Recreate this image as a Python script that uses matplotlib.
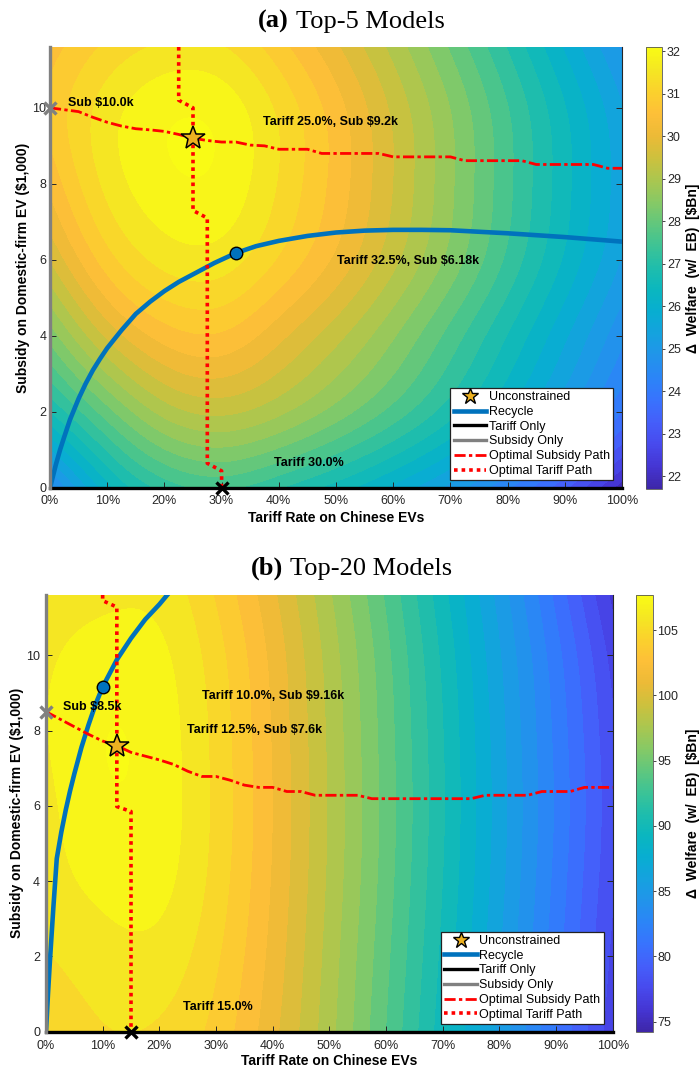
import numpy as np
import matplotlib
matplotlib.use("Agg")
import matplotlib.pyplot as plt
from matplotlib.colors import LinearSegmentedColormap, Normalize
from matplotlib.cm import ScalarMappable
from matplotlib.lines import Line2D

plt.rcParams['font.family'] = ['Liberation Sans', 'DejaVu Sans']

# MATLAB parula, approximated with anchor colours
parula = LinearSegmentedColormap.from_list('parula', [
    (0.2422, 0.1504, 0.6603), (0.2700, 0.2100, 0.8300), (0.2810, 0.2900, 0.9300),
    (0.2700, 0.3700, 0.9800), (0.2200, 0.4500, 0.9950), (0.1700, 0.5200, 0.9700),
    (0.1300, 0.5800, 0.9200), (0.0800, 0.6350, 0.8750), (0.0300, 0.6800, 0.8200),
    (0.0400, 0.7150, 0.7500), (0.1200, 0.7420, 0.6750), (0.2400, 0.7650, 0.5850),
    (0.3800, 0.7800, 0.4900), (0.5300, 0.7880, 0.3950), (0.6700, 0.7780, 0.3100),
    (0.8050, 0.7550, 0.2400), (0.9250, 0.7300, 0.2150), (0.9930, 0.7500, 0.2200),
    (0.9850, 0.8200, 0.1750), (0.9600, 0.9050, 0.1350), (0.9769, 0.9839, 0.0805)])

# ---- data -------------------------------------------------------------
tariff_grid = [0, 10, 20, 30, 40, 50, 60, 70, 80, 90, 100]   # %
subsidy_grid = [0, 2, 4, 6, 8, 10, 11.6]                      # $1,000

# welfare surface, rows = subsidy_grid, cols = tariff_grid  ($Bn)
welfare_top5 = np.array([
    [24.35, 26.2, 27.2, 27.5, 27.1, 26.55, 25.9, 25.15, 24.25, 23.2, 21.85],
    [26.7, 28.0, 29.0, 29.3, 28.95, 28.35, 27.65, 26.85, 25.95, 24.95, 23.85],
    [28.3, 29.65, 30.45, 30.6, 30.05, 29.35, 28.55, 27.65, 26.7, 25.7, 24.65],
    [29.6, 30.85, 31.5, 31.55, 30.98, 30.22, 29.33, 28.38, 27.35, 26.3, 25.25],
    [30.4, 31.48, 32.0, 32.0, 31.35, 30.52, 29.58, 28.58, 27.53, 26.48, 25.43],
    [30.75, 31.55, 32.0, 31.95, 31.3, 30.45, 29.5, 28.5, 27.45, 26.38, 25.3],
    [30.5, 31.1, 31.45, 31.4, 30.8, 30.0, 29.1, 28.1, 27.05, 25.95, 24.85]])
welfare_top20 = np.array([
    [104.5, 105.3, 105.2, 103.8, 101.1, 97.7, 93.8, 89.7, 85.4, 81.1, 77.0],
    [105.3, 106.0, 106.1, 104.4, 101.5, 97.95, 94.1, 90.05, 85.8, 81.55, 77.4],
    [106.0, 106.9, 106.9, 104.9, 101.78, 98.2, 94.38, 90.35, 86.15, 81.9, 77.8],
    [106.2, 107.5, 107.2, 105.08, 101.9, 98.3, 94.5, 90.5, 86.3, 82.1, 78.0],
    [106.5, 107.65, 107.17, 105.0, 101.8, 98.2, 94.4, 90.4, 86.18, 81.95, 77.8],
    [106.3, 107.1, 106.8, 104.7, 101.55, 97.95, 94.15, 90.1, 85.85, 81.55, 77.2],
    [105.9, 106.2, 106.15, 104.1, 101.0, 97.45, 93.65, 89.6, 85.3, 80.8, 76.2]])
clim_top5 = (21.7, 32.1)
clim_top20 = (74.2, 107.7)

# Top-5 paths
recycle5_t = [0, 0.5, 1, 1.75, 2.5, 3.5, 5, 6.25, 7.5, 8.75, 10, 12.5, 15, 17.5, 20, 22.5, 25,
              28.75, 32.5, 36, 40, 45, 50, 55, 60, 65, 70, 75, 80, 85, 90, 95, 100]
recycle5_s = [0, 0.3, 0.6, 1.0, 1.35, 1.8, 2.35, 2.75, 3.1, 3.4, 3.68, 4.15, 4.58, 4.9, 5.18, 5.42,
              5.62, 5.92, 6.18, 6.36, 6.5, 6.63, 6.72, 6.77, 6.79, 6.79, 6.78, 6.74, 6.7, 6.65,
              6.6, 6.54, 6.48]
subpath5_t = [0, 2.5, 5, 7.5, 10, 12.5, 15, 17.5, 20, 22.5, 25, 27.5, 30, 32.5, 35, 37.5, 40, 45,
              47.5, 57.5, 60, 70, 72.5, 82.5, 85, 95, 97.5, 100]
subpath5_s = [10.0, 9.95, 9.9, 9.75, 9.62, 9.52, 9.45, 9.42, 9.38, 9.3, 9.2, 9.14, 9.1, 9.1, 9.02, 9.0,
              8.91, 8.91, 8.8, 8.8, 8.71, 8.71, 8.61, 8.61, 8.51, 8.51, 8.41, 8.41]
tarpath5_t = [22.5, 22.5, 25, 25, 27.5, 27.5, 30, 30]
tarpath5_s = [11.6, 10.2, 10.0, 7.3, 7.1, 0.65, 0.45, 0]
opt5 = {'star': (25, 9.2), 'circle': (32.5, 6.18), 'tariff': (30, 0), 'sub': (0, 10.0)}
labels5 = [('Sub $10.0k', 3.1, 10.14), ('Tariff 25.0%, Sub $9.2k', 37.3, 9.64),
           ('Tariff 32.5%, Sub $6.18k', 50.1, 5.96), ('Tariff 30.0%', 39.2, 0.65)]

# Top-20 paths
recycle20_t = [0, 0.35, 0.7, 1.3, 1.9, 2.7, 3.5, 4.25, 5, 6.25, 7.5, 8.75, 10, 12.5, 15, 17.5, 20, 22.5]
recycle20_s = [0, 1.0, 1.9, 3.3, 4.6, 5.3, 5.9, 6.4, 6.85, 7.55, 8.15, 8.7, 9.16, 9.88, 10.45,
               10.95, 11.35, 11.8]
subpath20_t = [0, 2.5, 5, 7.5, 10, 12.5, 15, 17.5, 20, 22.5, 25, 27.5, 30, 32.5, 35, 37.5, 40, 42.5,
               45, 47.5, 55, 57.5, 75, 77.5, 85, 87.5, 92.5, 95, 100]
subpath20_s = [8.5, 8.3, 8.1, 7.9, 7.72, 7.6, 7.42, 7.32, 7.22, 7.1, 6.92, 6.78, 6.78, 6.68, 6.55,
               6.49, 6.49, 6.38, 6.38, 6.28, 6.28, 6.19, 6.19, 6.28, 6.28, 6.38, 6.38, 6.49, 6.49]
tarpath20_t = [10, 10, 12.5, 12.5, 15, 15]
tarpath20_s = [11.6, 11.45, 11.28, 5.98, 5.85, 0]
opt20 = {'star': (12.5, 7.6), 'circle': (10, 9.16), 'tariff': (15, 0), 'sub': (0, 8.5)}
labels20 = [('Sub $8.5k', 3.0, 8.62), ('Tariff 10.0%, Sub $9.16k', 27.6, 8.93),
            ('Tariff 12.5%, Sub $7.6k', 24.8, 8.02), ('Tariff 15.0%', 24.1, 0.65)]

tariff_only_t, tariff_only_s = [0, 100], [0, 0]
subsidy_only_t, subsidy_only_s = [0, 0], [0, 11.6]

S_MAX = 11.6
BLUE, GOLD, RED = '#0072BD', '#EDB120', '#FF0000'


def spline_matrix(x, xe):
    """natural cubic spline weights: values at xe = M @ values at knots x"""
    x = np.asarray(x, float)
    n = len(x)
    h = np.diff(x)
    A = np.zeros((n, n))
    B = np.zeros((n, n))
    A[0, 0] = A[-1, -1] = 1
    for i in range(1, n - 1):
        A[i, i - 1], A[i, i], A[i, i + 1] = h[i - 1], 2 * (h[i - 1] + h[i]), h[i]
        B[i, i - 1], B[i, i], B[i, i + 1] = 6 / h[i - 1], -6 / h[i - 1] - 6 / h[i], 6 / h[i]
    sec = np.linalg.solve(A, B)
    idx = np.clip(np.searchsorted(x, xe, side='right') - 1, 0, n - 2)
    M = np.zeros((len(xe), n))
    for k, (e, i) in enumerate(zip(xe, idx)):
        a = (x[i + 1] - e) / h[i]
        b = (e - x[i]) / h[i]
        M[k, i] += a
        M[k, i + 1] += b
        M[k] += ((a ** 3 - a) * sec[i] + (b ** 3 - b) * sec[i + 1]) * h[i] ** 2 / 6
    return M


def draw_panel(ax, cax, W, clim, cticks, rec_t, rec_s, sp_t, sp_s, tp_t, tp_s, opt, labels,
               xpad, ypad, xlpad, ylpad, cbpad):
    # smooth filled contours from the read-off grid
    t_f = np.linspace(0, 100, 301)
    s_f = np.linspace(0, S_MAX, 175)
    Z = spline_matrix(subsidy_grid, s_f) @ W @ spline_matrix(tariff_grid, t_f).T
    norm = Normalize(*clim)
    ax.contourf(t_f, s_f, Z, levels=np.linspace(clim[0], clim[1], 30), cmap=parula,
                norm=norm, extend='both', zorder=0)

    h_rec, = ax.plot(rec_t, rec_s, color=BLUE, lw=3.3, zorder=3)
    h_tar, = ax.plot(tariff_only_t, tariff_only_s, color='k', lw=2.4, zorder=3, clip_on=False)
    h_sub, = ax.plot(subsidy_only_t, subsidy_only_s, color='#808080', lw=2.4, zorder=3, clip_on=False)
    h_sp, = ax.plot(sp_t, sp_s, color=RED, lw=2, ls=(0, (4, 1.2, 1.2, 1.2)), zorder=4)
    h_tp, = ax.plot(tp_t, tp_s, color=RED, lw=2.6, ls=(0, (1, 1.1)), zorder=4)

    ax.plot(*opt['circle'], 'o', ms=9, mfc=BLUE, mec='k', mew=1, zorder=6)
    ax.plot(*opt['star'], '*', ms=18, mfc=GOLD, mec='k', mew=1.1, zorder=6)
    ax.plot(*opt['tariff'], 'x', ms=8.5, mec='k', mew=2.4, zorder=6, clip_on=False)
    ax.plot(*opt['sub'], 'x', ms=8.5, mec='#808080', mew=2.4, zorder=6, clip_on=False)

    for txt, x, y in labels:
        ax.text(x, y, txt, fontsize=9, fontweight='bold', va='center', ha='left', zorder=7)

    ax.set_xlim(0, 100)
    ax.set_ylim(0, S_MAX)
    ax.set_xticks(range(0, 101, 10))
    ax.set_xticklabels([f'{v}%' for v in range(0, 101, 10)])
    ax.set_yticks([0, 2, 4, 6, 8, 10])
    ax.tick_params(direction='in', length=4, width=0.7, top=False, right=True,
                   labelsize=9, colors='#262626')
    ax.tick_params(axis='x', pad=xpad)
    ax.tick_params(axis='y', pad=ypad)
    ax.spines['top'].set_visible(False)
    for sp in ('left', 'right', 'bottom'):
        ax.spines[sp].set_color('#262626')
        ax.spines[sp].set_linewidth(0.8)
    ax.set_xlabel('Tariff Rate on Chinese EVs', fontsize=10, fontweight='bold', labelpad=xlpad)
    ax.set_ylabel('Subsidy on Domestic-firm EV ($1,000)', fontsize=10, fontweight='bold', labelpad=ylpad)

    star_h = Line2D([], [], ls='none', marker='*', ms=12, mfc=GOLD, mec='k', mew=1)
    leg = ax.legend([star_h, h_rec, h_tar, h_sub, h_sp, h_tp],
                    ['Unconstrained', 'Recycle', 'Tariff Only', 'Subsidy Only',
                     'Optimal Subsidy Path', 'Optimal Tariff Path'],
                    loc='lower right', bbox_to_anchor=(0.984, 0.018), fontsize=9,
                    handlelength=2.6, handletextpad=0.2, labelspacing=0.22, borderpad=0.25,
                    borderaxespad=0, fancybox=False, framealpha=1, edgecolor='#222222')
    leg.get_frame().set_linewidth(0.9)
    leg.set_zorder(10)

    cb = plt.colorbar(ScalarMappable(norm=norm, cmap=parula), cax=cax)
    cb.set_ticks(cticks)
    cb.ax.tick_params(direction='out', length=2.5, width=0.6, labelsize=9, pad=1, colors='#262626')
    cb.outline.set_linewidth(0.6)
    cb.outline.set_edgecolor('#555555')
    cb.set_label('Δ  Welfare  (w/  EB)  [$Bn]', fontsize=10, fontweight='bold', labelpad=cbpad)


fig = plt.figure(figsize=(7, 10.72), dpi=100)
W_, H_ = 700, 1072

ax1 = fig.add_axes([50 / W_, 1 - 488 / H_, 572 / W_, 441 / H_])
cax1 = fig.add_axes([646 / W_, 1 - 489 / H_, 16 / W_, 442 / H_])
ax2 = fig.add_axes([46 / W_, 1 - 1031.7 / H_, 566.7 / W_, 436.7 / H_])
cax2 = fig.add_axes([635.7 / W_, 1 - 1032 / H_, 17 / W_, 437 / H_])

draw_panel(ax1, cax1, welfare_top5, clim_top5, range(22, 33),
           recycle5_t, recycle5_s, subpath5_t, subpath5_s, tarpath5_t, tarpath5_s, opt5, labels5,
           xpad=5.0, ypad=2.5, xlpad=3, ylpad=2, cbpad=4)
draw_panel(ax2, cax2, welfare_top20, clim_top20, range(75, 106, 5),
           recycle20_t, recycle20_s, subpath20_t, subpath20_s, tarpath20_t, tarpath20_s, opt20, labels20,
           xpad=6.0, ypad=4.3, xlpad=1.5, ylpad=1.5, cbpad=5)

serif = ['Liberation Serif', 'DejaVu Serif']
fig.text(289 / W_, 1 - 28 / H_, '(a)', ha='right', va='baseline', fontsize=19, fontweight='bold', family=serif)
fig.text(296 / W_, 1 - 28 / H_, 'Top-5 Models', ha='left', va='baseline', fontsize=19, family=serif)
fig.text(283.5 / W_, 1 - 575 / H_, '(b)', ha='right', va='baseline', fontsize=19, fontweight='bold', family=serif)
fig.text(290 / W_, 1 - 575 / H_, 'Top-20 Models', ha='left', va='baseline', fontsize=19, family=serif)

fig.savefig('out.png', dpi=100)
